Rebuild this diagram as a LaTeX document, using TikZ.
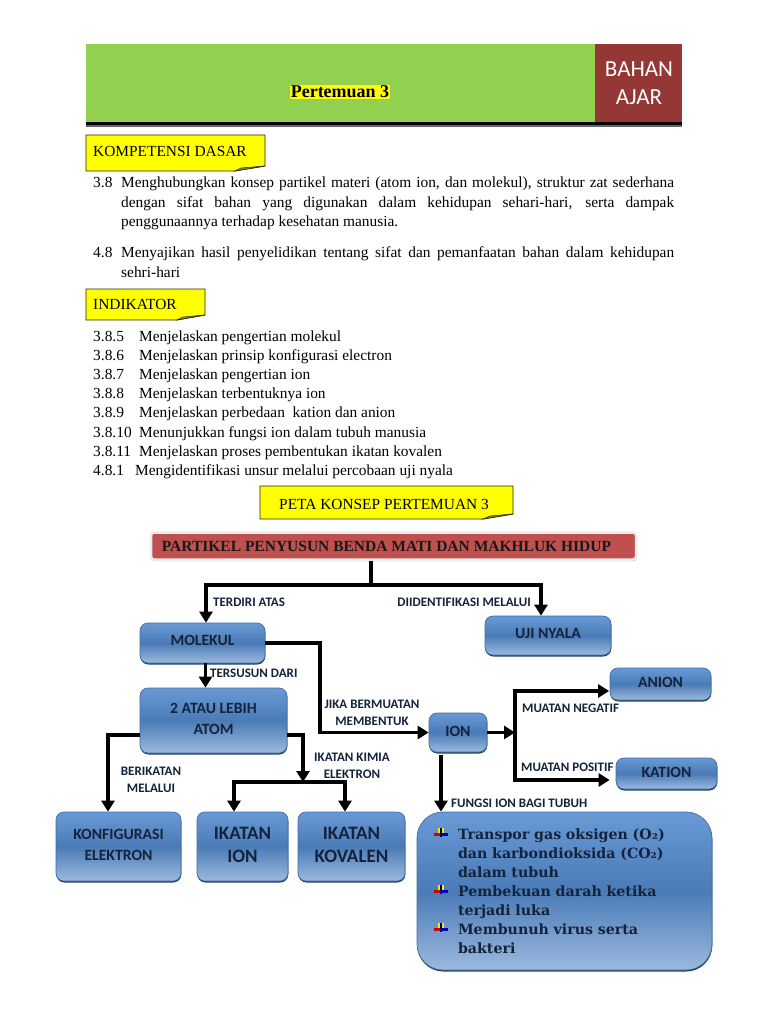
\documentclass[tikz,border=0pt]{standalone}
\usepackage{fontspec}
\usepackage{xcolor}
\usepackage{tikz}
\usetikzlibrary{arrows.meta,shadows}
\setmainfont{Liberation Serif}
\setsansfont{Carlito}
\newfontfamily\boxfont{DejaVu Serif}
\definecolor{pkGreen}{HTML}{92D050}
\definecolor{pkMaroon}{HTML}{953735}
\definecolor{pkRed}{HTML}{C0504D}
\definecolor{pkYellow}{HTML}{FFFF00}
\definecolor{pkFold}{HTML}{8C8C1E}
\definecolor{pkInk}{HTML}{14233C}
\definecolor{pkTop}{HTML}{6A9AD6}
\definecolor{pkMid}{HTML}{4A7BB6}
\definecolor{pkBottom}{HTML}{9CB9DE}
\definecolor{pkEdge}{HTML}{3F6EA3}
\definecolor{pkShade}{HTML}{24415F}
\tikzset{
  pk diagram/.style={x=1pt, y=-1pt, line cap=butt, line join=miter},
  pk body/.style={font=\rmfamily\fontsize{15.4}{19.5}\selectfont, text=black, inner sep=0pt},
  pk note/.style={draw=black!70!pkFold, fill=pkYellow, line width=0.9pt},
  pk fold/.style={fill=pkFold, draw=black!70!pkFold, line width=0.5pt},
  pk box/.style={draw=pkEdge, line width=0.7pt, top color=pkTop, bottom color=pkBottom, middle color=pkMid,
    rounded corners=8pt, align=center, inner sep=0pt, text=pkInk,
    drop shadow={shadow xshift=0.3pt, shadow yshift=-1.5pt, fill=pkShade, opacity=1}},
  pk small/.style={pk box, text depth=3pt, font=\sffamily\bfseries\fontsize{15.7}{21}\selectfont},
  pk large/.style={pk box, text depth=3pt, font=\sffamily\bfseries\fontsize{19}{23}\selectfont},
  pk label/.style={font=\sffamily\bfseries\fontsize{13}{17}\selectfont, text=pkInk, align=center, inner sep=0pt},
  pk line/.style={draw=black, line width=3.8pt},
  pk arrow/.style={pk line, -{Triangle[length=11pt, width=13pt]}},
  ion bullet/.pic={
    \fill[yellow!90!orange] (-3,-5) rectangle (3,0);
    \fill[red!80!black] (-7,0) rectangle (0,3);
    \fill[blue!70!black] (0,0) rectangle (7,3);
    \fill[blue!40!black] (-0.7,-5) rectangle (0.7,4);
  }
}
\begin{document}
\begin{tikzpicture}[pk diagram]
\useasboundingbox (0,0) rectangle (768,1024);
\fill[white] (0,0) rectangle (768,1024);
% header
\fill[pkGreen] (86,44) rectangle (595,122);
\fill[pkMaroon] (595,44) rectangle (682,122);
\fill[black] (86,122) rectangle (682,125);
\fill[black!60] (86,125) rectangle (682,127);
\node[font=\rmfamily\bfseries\fontsize{18}{20}\selectfont, fill=pkYellow, inner sep=0.5pt] (pertemuan) at (340,92) {Pertemuan 3};
\node[font=\sffamily\fontsize{23}{28}\selectfont, text=white, align=center, inner sep=0pt] (bahan) at (639,83) {BAHAN\\AJAR};
% kompetensi
\draw[pk note] (86,135) -- (265,135) -- (265,166) -- (235,171) -- (86,171) -- cycle;
\draw[pk fold] (265,166) -- (241,168) -- (235,171) -- cycle;
\node[pk body, anchor=base west] (kompetensi) at (93,157) {KOMPETENSI DASAR};
\node[pk body, anchor=base west] (kd38) at (93,188) {3.8};
\node[pk body, anchor=base west, text width=553pt, align=justify] (kd38text) at (121,188) {Menghubungkan konsep partikel materi (atom ion, dan molekul), struktur zat \mbox{sederhana} dengan sifat bahan yang digunakan dalam kehidupan sehari-hari, serta dampak \mbox{penggunaannya} terhadap kesehatan manusia.};
\node[pk body, anchor=base west] (kd48) at (93,258) {4.8};
\node[pk body, anchor=base west, text width=553pt, align=justify] (kd48text) at (121,258) {Menyajikan hasil penyelidikan tentang sifat dan pemanfaatan bahan dalam kehidupan sehri-hari};
% indikator
\draw[pk note] (86,289) -- (205,289) -- (205,315) -- (177,320) -- (86,320) -- cycle;
\draw[pk fold] (205,315) -- (183,317) -- (177,320) -- cycle;
\node[pk body, anchor=base west] (indikator) at (93,309) {INDIKATOR};
\foreach \num/\txt [count=\i from 0] in {3.8.5/Menjelaskan pengertian molekul, 3.8.6/Menjelaskan prinsip konfigurasi electron, 3.8.7/Menjelaskan pengertian ion, 3.8.8/Menjelaskan terbentuknya ion, 3.8.9/Menjelaskan perbedaan\ \ kation dan anion, 3.8.10/Menunjukkan fungsi ion dalam tubuh manusia, 3.8.11/Menjelaskan proses pembentukan ikatan kovalen} {
  \node[pk body, anchor=base west] (num\i) at (93,341+19.2*\i) {\num};
  \node[pk body, anchor=base west] (ind\i) at (139,341+19.2*\i) {\txt};
}
\node[pk body, anchor=base west] (num7) at (93,475.5) {4.8.1};
\node[pk body, anchor=base west] (ind7) at (135,475.5) {Mengidentifikasi unsur melalui percobaan uji nyala};
% peta konsep
\draw[pk note] (260,486) -- (513,486) -- (513,514) -- (483,519) -- (260,519) -- cycle;
\draw[pk fold] (513,514) -- (490,516) -- (483,519) -- cycle;
\node[pk body, anchor=base] (peta) at (384,509) {PETA KONSEP PERTEMUAN 3};
\node[draw=black!8, line width=2.5pt, fill=pkRed, rounded corners=3pt, minimum width=485pt, minimum height=27pt, inner sep=0pt,
  font=\rmfamily\bfseries\fontsize{15.5}{18}\selectfont, text=black!90,
  drop shadow={shadow xshift=0.5pt, shadow yshift=-1.5pt, fill=black!35, opacity=1}] (partikel) at (393.5,546) {PARTIKEL PENYUSUN BENDA MATI DAN MAKHLUK HIDUP\kern14pt};
\node[pk small, minimum width=125pt, minimum height=40pt] (molekul) at (202.5,643) {\raisebox{2pt}{MOLEKUL}};
\node[pk small, minimum width=126pt, minimum height=39pt] (uji) at (548,635.5) {\raisebox{2pt}{UJI NYALA}};
\node[pk small, minimum width=147pt, minimum height=65pt] (atom) at (213.5,720.5) {2 ATAU LEBIH\\ATOM};
\node[pk small, minimum width=125pt, minimum height=69pt] (konfigurasi) at (118.5,846.5) {KONFIGURASI\\ELEKTRON};
\node[pk large, minimum width=91pt, minimum height=69pt] (ikatanion) at (242.5,846.5) {IKATAN\\ION};
\node[pk large, minimum width=107pt, minimum height=69pt] (kovalen) at (351.5,846.5) {IKATAN\\KOVALEN};
\node[pk small, minimum width=58pt, minimum height=39pt] (ion) at (458,732.5) {ION};
\node[pk small, minimum width=101pt, minimum height=32pt] (anion) at (660.5,684) {ANION};
\node[pk small, minimum width=101pt, minimum height=31pt] (kation) at (666.5,773.5) {KATION};
\node[pk box, rounded corners=26pt, minimum width=295pt, minimum height=158pt, text width=213pt, align=left,
  font=\boxfont\bfseries\fontsize{14.2}{19}\selectfont] (fungsi) at (564.5,891) {Transpor gas oksigen (O₂)\\dan karbondioksida (CO₂)\\dalam tubuh\\Pembekuan darah ketika\\terjadi luka\\Membunuh virus serta\\bakteri};
\pic at (441,833) {ion bullet};
\pic at (441,890) {ion bullet};
\pic at (441,928) {ion bullet};
% connectors
\coordinate (rootfork) at (371,585);
\coordinate (atomfork) at (303,782);
\coordinate (ionfork) at (515,732.5);
\draw[pk line] (partikel.south -| rootfork) -- (rootfork);
\draw[pk arrow] (rootfork) -| ([xshift=3.5pt]molekul.north);
\draw[pk arrow] (rootfork) -| ([xshift=-7pt]uji.north);
\draw[pk arrow] ([xshift=3pt]molekul.south) -- ([xshift=-8pt]atom.north);
\draw[pk arrow] (molekul.east) -- (320,643) |- (ion.west);
\draw[pk arrow] ([yshift=-14.5pt]atom.west) -| ([xshift=-10.5pt]konfigurasi.north);
\draw[pk arrow] ([yshift=-14.5pt]atom.east) -| (atomfork);
\draw[pk arrow] (atomfork) -| ([xshift=-8.5pt]ikatanion.north);
\draw[pk arrow] (atomfork) -| ([xshift=-6.5pt]kovalen.north);
\draw[pk arrow] (ion.east) -- (ionfork);
\draw[pk arrow] (ionfork) |- ([xshift=-0.5pt,yshift=-7pt]anion.west);
\draw[pk arrow] (ionfork) |- ([xshift=-6pt,yshift=-6.5pt]kation.west);
\draw[pk arrow] ([xshift=-17pt,yshift=-3pt]ion.south) -- ([xshift=-123.5pt]fungsi.north);
% labels
\node[pk label, anchor=west] (terdiri) at (213,602) {TERDIRI ATAS};
\node[pk label, anchor=east] (diidentifikasi) at (531,602) {DIIDENTIFIKASI MELALUI};
\node[pk label, anchor=west] (tersusun) at (210,673) {TERSUSUN DARI};
\node[pk label] (jika) at (372,712.5) {JIKA BERMUATAN\\MEMBENTUK};
\node[pk label] (berikatan) at (151,779.5) {BERIKATAN\\MELALUI};
\node[pk label] (kimia) at (352,765.5) {IKATAN KIMIA\\ELEKTRON};
\node[pk label, anchor=west] (negatif) at (522,708) {MUATAN NEGATIF};
\node[pk label, anchor=west] (positif) at (521,767) {MUATAN POSITIF};
\node[pk label, anchor=west] (fungsilabel) at (451,803) {FUNGSI ION BAGI TUBUH};
\end{tikzpicture}
\end{document}
